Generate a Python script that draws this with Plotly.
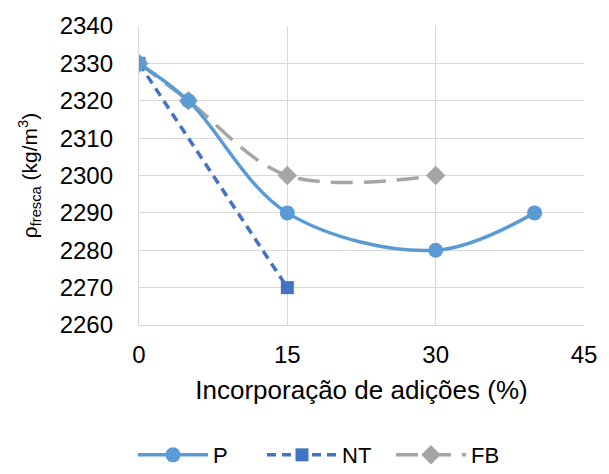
import plotly.graph_objects as go

# Fresh density vs. percentage of additions
x_p = [0, 5, 15, 30, 40]
y_p = [2330, 2320, 2290, 2280, 2290]

x_nt = [0, 15]
y_nt = [2330, 2270]

x_fb = [0, 5, 15, 30]
y_fb = [2330, 2320, 2300, 2300]

x_ticks = [0, 15, 30, 45]
y_ticks = [2260, 2270, 2280, 2290, 2300, 2310, 2320, 2330, 2340]

FONT = "Liberation Sans, Arial, sans-serif"
GRID = "#D9D9D9"

fig = go.Figure()

fig.add_trace(go.Scatter(
    x=x_fb, y=y_fb, name="FB", mode="lines+markers",
    line=dict(color="#A5A5A5", width=3.5, dash="22px,11px", shape="spline", smoothing=1),
    marker=dict(symbol="diamond", size=15, color="#A5A5A5"),
    legendrank=3,
))
fig.add_trace(go.Scatter(
    x=x_nt, y=y_nt, name="NT", mode="lines+markers",
    line=dict(color="#4472C4", width=3.5, dash="9px,6px"),
    marker=dict(symbol="square", size=13, color="#4472C4"),
    legendrank=2,
))
fig.add_trace(go.Scatter(
    x=x_p, y=y_p, name="P", mode="lines+markers",
    line=dict(color="#5B9BD5", width=3.5, shape="spline", smoothing=1),
    marker=dict(symbol="circle", size=15, color="#5B9BD5"),
    legendrank=1,
))

fig.update_layout(
    width=609, height=474,
    margin=dict(l=139, r=22, t=21, b=149),
    paper_bgcolor="white", plot_bgcolor="white",
    font=dict(family=FONT, size=24, color="#000000"),
    showlegend=True,
    legend=dict(
        orientation="h", x=133 / 609, xanchor="left", xref="container",
        y=0.04, yanchor="middle", yref="container",
        itemwidth=70, entrywidth=44, entrywidthmode="pixels",
        font=dict(size=22), traceorder="normal",
    ),
    xaxis=dict(
        range=[0, 45], tickvals=x_ticks, ticks="",
        showgrid=True, gridcolor=GRID, gridwidth=1.3,
        showline=True, linecolor=GRID, linewidth=1.3,
        zeroline=False, tickfont=dict(size=24), ticklabelstandoff=8,
        title=dict(text="Incorporação de adições (%)", font=dict(size=26), standoff=13),
    ),
    yaxis=dict(
        range=[2260, 2340], tickvals=y_ticks, ticks="",
        showgrid=True, gridcolor=GRID, gridwidth=1.3,
        showline=True, linecolor=GRID, linewidth=1.3,
        zeroline=False, tickfont=dict(size=24), ticklabelstandoff=20,
        title=dict(text="ρ<sub>fresca</sub> (kg/m<sup>3</sup>)", font=dict(size=21), standoff=16),
    ),
)

fig.write_html("out.html")
